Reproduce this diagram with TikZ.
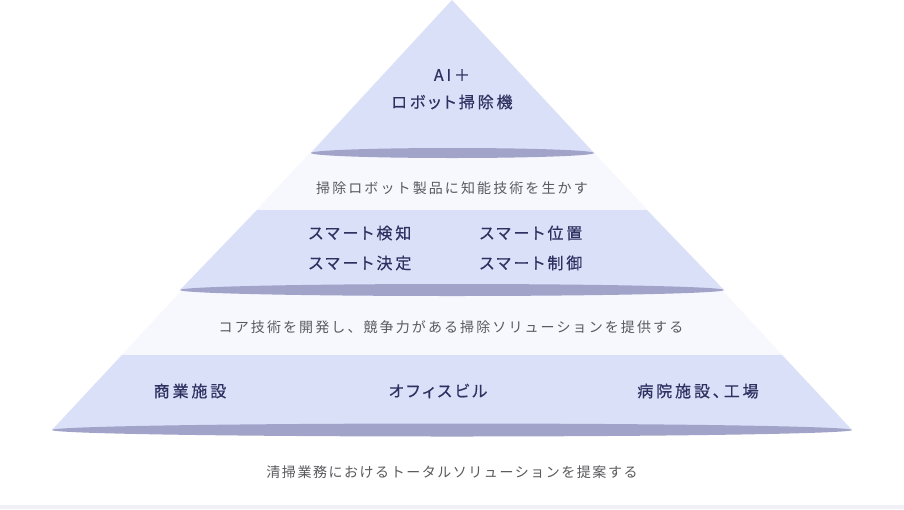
\documentclass[tikz,border=0pt]{standalone}
\usepackage{fontspec}
\newfontfamily\jpdark{Noto Sans CJK JP}[LetterSpace=18,RawFeature=+palt,FakeBold=0.5]
\newfontfamily\jplight{Noto Sans CJK JP}[LetterSpace=15]
\newfontfamily\jpbottom{Noto Sans CJK JP}[LetterSpace=11]
\definecolor{bandside}{HTML}{DBE0F9}
\definecolor{bandmid}{HTML}{EBEDF9}
\definecolor{lightfill}{HTML}{F6F8FD}
\definecolor{rim}{HTML}{A1A3C9}
\definecolor{darktext}{HTML}{2E3160}
\definecolor{graytext}{HTML}{5A5A5E}
\definecolor{strip}{HTML}{F0F0F6}
\tikzset{
  band/.style={left color=bandside, middle color=bandmid, right color=bandside, draw=none},
  rimell/.style={fill=rim, draw=none},
  darklabel/.style={font=\jpdark\fontsize{16}{19}\selectfont, text=darktext, inner sep=0pt},
  lightlabel/.style={font=\jplight\fontsize{14}{17}\selectfont, text=graytext, inner sep=0pt},
  bottomlabel/.style={font=\jpbottom\fontsize{14}{17}\selectfont, text=graytext, inner sep=0pt},
}
\begin{document}
\begin{tikzpicture}[x=1pt,y=-1pt]
\useasboundingbox (0,0) rectangle (904,509);
\fill[white] (0,0) rectangle (904,509);
\fill[strip] (0,505) rectangle (904,509);
% light background pyramid
\fill[lightfill] (452,0) -- (852,430) -- (52,430) -- cycle;
% top cone
\shade[band] (452,0) -- (594,153) -- (311,153) -- cycle;
\fill[rimell] (452.5,153) ellipse [x radius=141.5, y radius=5];
% middle band
\shade[band] (257,210) -- (647,210) -- (724,290) -- (180,290) -- cycle;
\fill[rimell] (452,290) ellipse [x radius=272, y radius=6];
% bottom band
\shade[band] (122,355) -- (782,355) -- (852,430) -- (52,430) -- cycle;
\fill[rimell] (452,430) ellipse [x radius=400, y radius=6.5];
% texts
\node[darklabel] (ai) at (452,75) {AI＋};
\node[darklabel] (robot) at (452,102) {ロボット掃除機};
\node[lightlabel] (t1) at (452,188) {掃除ロボット製品に知能技術を生かす};
\node[darklabel] (s1) at (360,233) {スマート検知};
\node[darklabel] (s2) at (531,233) {スマート位置};
\node[darklabel] (s3) at (360,263) {スマート決定};
\node[darklabel] (s4) at (531,263) {スマート制御};
\node[lightlabel] (t2) at (451,327) {コア技術を開発し、競争力がある掃除ソリューションを提供する};
\node[darklabel] (b1) at (190,391) {商業施設};
\node[darklabel] (b2) at (438,391) {オフィスビル};
\node[darklabel] (b3) at (698,391) {病院施設、工場};
\node[bottomlabel] (t3) at (452,472) {清掃業務におけるトータルソリューションを提案する};
\end{tikzpicture}
\end{document}
